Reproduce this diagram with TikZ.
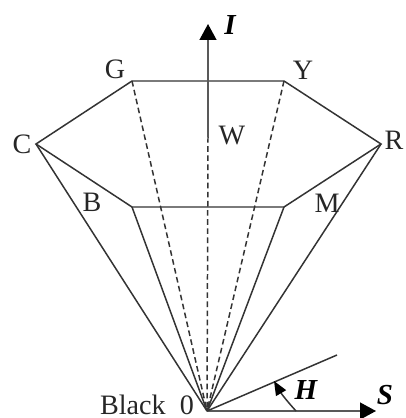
\documentclass[tikz,border=0pt]{standalone}
\usepackage{fontspec}
\setmainfont{Liberation Serif}
\usetikzlibrary{arrows.meta}
\begin{document}
\begin{tikzpicture}[x=0.02cm,y=-0.02cm]
    % Define styles
    \tikzset{
        edgeLine/.style={line width=0.85pt, draw=black!80},
        hiddenLine/.style={edgeLine, dash pattern=on 3.2pt off 2pt},
        axisLine/.style={line width=0.95pt, draw=black!65, -{Triangle[length=9pt,width=9.5pt,color=black]}},
        colourLabel/.style={inner sep=0pt, text=black!85, font=\fontsize{16}{18}\selectfont},
        axisLabel/.style={inner sep=0pt, font=\fontsize{16.5}{18}\selectfont\bfseries\itshape}
    }
    \useasboundingbox (0,0) rectangle (405,418);

    % Define coordinates for the hexagon
    \coordinate (black) at (207,411);
    \coordinate (G) at (132,81);
    \coordinate (Y) at (284,81);
    \coordinate (C) at (36,144);
    \coordinate (R) at (381,144);
    \coordinate (B) at (132,207);
    \coordinate (M) at (284,207);
    \coordinate (white) at (208,137);
    \coordinate (iTip) at (208,24);
    \coordinate (sTip) at (376,411);
    \coordinate (hEnd) at (337,355);
    \coordinate (hStart) at (296,411);
    \coordinate (hTip) at (274,381);

    % Draw hexagon
    \draw[edgeLine] (C) -- (G) -- (Y) -- (R) -- (M) -- (B) -- cycle;

    % Draw edges to black
    \foreach \v in {C,B,M,R}
        \draw[edgeLine] (\v) -- (black);
    \foreach \v in {G,Y}
        \draw[hiddenLine] (\v) -- (black);
    \draw[hiddenLine] (white) -- (black);

    % Draw axes
    \draw[axisLine] (white) -- (iTip);
    \draw[axisLine] (black) -- (sTip);
    \draw[edgeLine] (black) -- (hEnd);
    \draw[edgeLine, -{Triangle[length=8pt,width=6.5pt,color=black]}] (hStart) to[bend left=6] (hTip);

    % Label the vertices
    \node[colourLabel] (labelG) at (115,69) {G};
    \node[colourLabel] (labelY) at (303,70) {Y};
    \node[colourLabel] (labelC) at (22,144) {C};
    \node[colourLabel] (labelR) at (394,140) {R};
    \node[colourLabel] (labelB) at (92,202) {B};
    \node[colourLabel] (labelM) at (327,203) {M};
    \node[colourLabel] (labelW) at (232,136) {W};
    \node[colourLabel] (labelBlack) at (147,405) {Black\ \ 0};

    % Label the axes
    \node[axisLabel] (labelI) at (230,25) {I};
    \node[axisLabel] (labelS) at (385,395) {S};
    \node[axisLabel] (labelH) at (306,390) {H};
\end{tikzpicture}
\end{document}
